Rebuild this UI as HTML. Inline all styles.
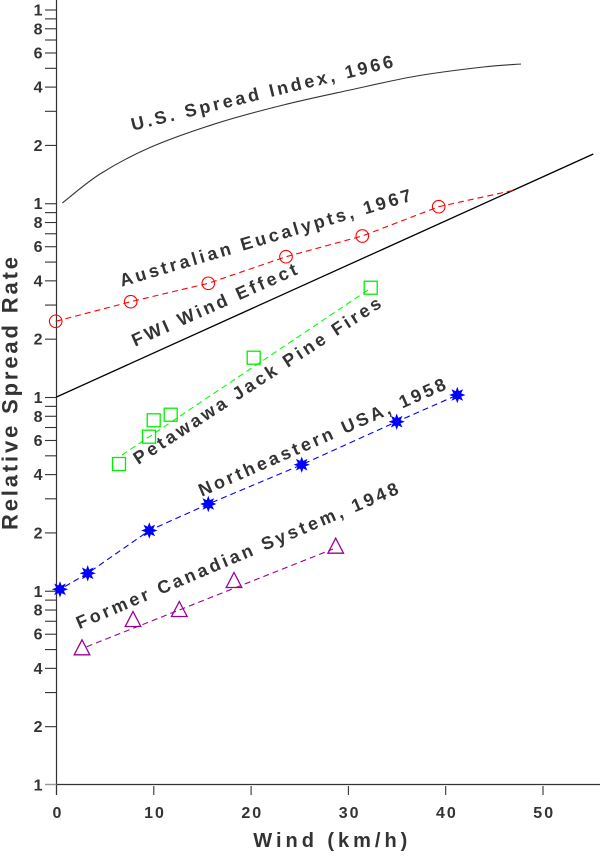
<!DOCTYPE html>
<html>
<head>
<meta charset="utf-8">
<style>
html,body{margin:0;padding:0;background:#fff;}
svg{display:block;}
text{font-family:"Liberation Sans",Arial,sans-serif;font-weight:bold;fill:#333;}
</style>
</head>
<body>
<svg width="600" height="856" viewBox="0 0 600 856" xmlns="http://www.w3.org/2000/svg">
<rect width="600" height="856" fill="#fff"/>

<!-- axes -->
<line x1="56.5" y1="0" x2="56.5" y2="795" stroke="#333" stroke-width="1.2"/>
<line x1="56.5" y1="784.5" x2="600" y2="784.5" stroke="#333" stroke-width="1.2"/>

<!-- y ticks -->
<g stroke="#333" stroke-width="1.1">
<line x1="45" y1="10" x2="56.5" y2="10"/>
<line x1="45" y1="18.87" x2="56.5" y2="18.87"/>
<line x1="45" y1="28.78" x2="56.5" y2="28.78"/>
<line x1="45" y1="40.01" x2="56.5" y2="40.01"/>
<line x1="45" y1="52.98" x2="56.5" y2="52.98"/>
<line x1="45" y1="68.32" x2="56.5" y2="68.32"/>
<line x1="45" y1="87.1" x2="56.5" y2="87.1"/>
<line x1="45" y1="111.31" x2="56.5" y2="111.31"/>
<line x1="45" y1="145.43" x2="56.5" y2="145.43"/>
<line x1="45" y1="203.75" x2="56.5" y2="203.75"/>
<line x1="45" y1="212.62" x2="56.5" y2="212.62"/>
<line x1="45" y1="222.53" x2="56.5" y2="222.53"/>
<line x1="45" y1="233.76" x2="56.5" y2="233.76"/>
<line x1="45" y1="246.73" x2="56.5" y2="246.73"/>
<line x1="45" y1="262.07" x2="56.5" y2="262.07"/>
<line x1="45" y1="280.85" x2="56.5" y2="280.85"/>
<line x1="45" y1="305.06" x2="56.5" y2="305.06"/>
<line x1="45" y1="339.18" x2="56.5" y2="339.18"/>
<line x1="45" y1="397.5" x2="56.5" y2="397.5"/>
<line x1="45" y1="406.37" x2="56.5" y2="406.37"/>
<line x1="45" y1="416.28" x2="56.5" y2="416.28"/>
<line x1="45" y1="427.51" x2="56.5" y2="427.51"/>
<line x1="45" y1="440.48" x2="56.5" y2="440.48"/>
<line x1="45" y1="455.82" x2="56.5" y2="455.82"/>
<line x1="45" y1="474.6" x2="56.5" y2="474.6"/>
<line x1="45" y1="498.81" x2="56.5" y2="498.81"/>
<line x1="45" y1="532.93" x2="56.5" y2="532.93"/>
<line x1="45" y1="591.25" x2="56.5" y2="591.25"/>
<line x1="45" y1="600.12" x2="56.5" y2="600.12"/>
<line x1="45" y1="610.03" x2="56.5" y2="610.03"/>
<line x1="45" y1="621.26" x2="56.5" y2="621.26"/>
<line x1="45" y1="634.23" x2="56.5" y2="634.23"/>
<line x1="45" y1="649.57" x2="56.5" y2="649.57"/>
<line x1="45" y1="668.35" x2="56.5" y2="668.35"/>
<line x1="45" y1="692.56" x2="56.5" y2="692.56"/>
<line x1="45" y1="726.68" x2="56.5" y2="726.68"/>
</g>
<line x1="45" y1="784.5" x2="56.5" y2="784.5" stroke="#999" stroke-width="1.4"/>

<!-- y tick labels -->
<g font-size="16" text-anchor="end">
<text x="42.5" y="15.5">1</text>
<text x="42.5" y="34.3">8</text>
<text x="42.5" y="58.5">6</text>
<text x="42.5" y="92.6">4</text>
<text x="42.5" y="150.9">2</text>
<text x="42.5" y="209.2">1</text>
<text x="42.5" y="228">8</text>
<text x="42.5" y="252.2">6</text>
<text x="42.5" y="286.3">4</text>
<text x="42.5" y="344.7">2</text>
<text x="42.5" y="403">1</text>
<text x="42.5" y="421.8">8</text>
<text x="42.5" y="446">6</text>
<text x="42.5" y="480.1">4</text>
<text x="42.5" y="538.4">2</text>
<text x="42.5" y="596.8">1</text>
<text x="42.5" y="615.5">8</text>
<text x="42.5" y="639.7">6</text>
<text x="42.5" y="673.9">4</text>
<text x="42.5" y="732.2">2</text>
<text x="42.5" y="790.5">1</text>
</g>

<!-- x ticks -->
<g stroke="#333" stroke-width="1.1">
<line x1="56.5" y1="785" x2="56.5" y2="795"/>
<line x1="153.8" y1="786" x2="153.8" y2="795"/>
<line x1="251.1" y1="786" x2="251.1" y2="795"/>
<line x1="348.4" y1="786" x2="348.4" y2="795"/>
<line x1="445.7" y1="786" x2="445.7" y2="795"/>
<line x1="543" y1="786" x2="543" y2="795"/>
</g>
<g font-size="16" text-anchor="middle" letter-spacing="2">
<text x="58" y="818">0</text>
<text x="155" y="818">10</text>
<text x="252.3" y="818">20</text>
<text x="349.6" y="818">30</text>
<text x="446.9" y="818">40</text>
<text x="544.2" y="818">50</text>
</g>

<!-- axis titles -->
<text x="253.3" y="847" font-size="20" textLength="154" lengthAdjust="spacing">Wind (km/h)</text>
<text transform="translate(17.5,530) rotate(-90)" x="0" y="0" font-size="22" textLength="273" lengthAdjust="spacing">Relative Spread Rate</text>

<!-- US Spread Index curve -->
<path d="M62.3,203 C68.6,198.2 85.4,183.3 100,174 C114.6,164.75 130.55,155.95 150,147.5 C169.45,139.05 194.5,130.4 216.7,123.3 C238.9,116.2 261.1,110.55 283.3,105 C305.5,99.45 327.8,94.83 350,90 C372.2,85.17 394.5,79.83 416.7,76 C438.9,72.17 465.9,69 483.3,67 C500.7,65 514.7,64.5 521,64" fill="none" stroke="#333" stroke-width="1.1"/>

<!-- FWI line -->
<line x1="56.5" y1="397" x2="593.3" y2="154" stroke="#000" stroke-width="1.3"/>

<!-- Australian (red) -->
<polyline points="55.7,321.3 130.7,301.7 208.3,283.3 286,256.7 362.3,236 438.7,206.7 515,190" fill="none" stroke="#ff0000" stroke-width="1.1" stroke-dasharray="6,4"/>
<g fill="none" stroke="#ff0000" stroke-width="1.1">
<circle cx="55.7" cy="321.3" r="6.3"/>
<circle cx="130.7" cy="301.7" r="6.3"/>
<circle cx="208.3" cy="283.3" r="6.3"/>
<circle cx="286" cy="256.7" r="6.3"/>
<circle cx="362.3" cy="236" r="6.3"/>
<circle cx="438.7" cy="206.7" r="6.3"/>
</g>

<!-- Petawawa (green) -->
<line x1="122" y1="455" x2="371" y2="288" stroke="#00ff00" stroke-width="1.1" stroke-dasharray="6,4"/>
<g fill="none" stroke="#00ee00" stroke-width="1.3">
<rect x="112.5" y="457.5" width="13" height="13"/>
<rect x="142.5" y="430.2" width="13" height="13"/>
<rect x="147.2" y="413.8" width="13" height="13"/>
<rect x="164.2" y="408.2" width="13" height="13"/>
<rect x="247.2" y="351.2" width="13" height="13"/>
<rect x="364.2" y="281.2" width="13" height="13"/>
</g>

<!-- Northeastern (blue) -->
<polyline points="56.5,592 60,589.3 87.7,573.3 149.3,530.5 208.3,504 301.7,464.7 396.7,421.7 457.3,395" fill="none" stroke="#0000ff" stroke-width="1.1" stroke-dasharray="6,4"/>
<defs>
<polygon id="star" points="0,-8.2 1.6,-3.86 5.8,-5.8 3.86,-1.6 8.2,0 3.86,1.6 5.8,5.8 1.6,3.86 0,8.2 -1.6,3.86 -5.8,5.8 -3.86,1.6 -8.2,0 -3.86,-1.6 -5.8,-5.8 -1.6,-3.86" fill="#0000ff"/>
</defs>
<use href="#star" x="60" y="589.3"/>
<use href="#star" x="87.7" y="573.3"/>
<use href="#star" x="149.3" y="530.5"/>
<use href="#star" x="208.3" y="504"/>
<use href="#star" x="301.7" y="464.7"/>
<use href="#star" x="396.7" y="421.7"/>
<use href="#star" x="457.3" y="395"/>

<!-- Former Canadian (purple) -->
<line x1="86.7" y1="646.7" x2="333" y2="549" stroke="#990099" stroke-width="1.1" stroke-dasharray="6,4"/>
<g fill="none" stroke="#990099" stroke-width="1.3">
<polygon points="82,639.8 89.8,654.8 74.2,654.8"/>
<polygon points="133,611.5 140.8,626.5 125.2,626.5"/>
<polygon points="179.3,601.5 187.1,616.5 171.5,616.5"/>
<polygon points="234,572.5 241.8,587.5 226.2,587.5"/>
<polygon points="335.7,538.2 343.5,553.2 327.9,553.2"/>
</g>

<!-- series labels -->
<g font-size="18" letter-spacing="3">
<text transform="translate(132.7,130.7) rotate(-13.7)">U.S. Spread Index, 1966</text>
<text transform="translate(121.7,286.7) rotate(-16.5)">Australian Eucalypts, 1967</text>
<text transform="translate(135,346.7) rotate(-24)">FWI Wind Effect</text>
<text transform="translate(138.3,465) rotate(-33)">Petawawa Jack Pine Fires</text>
<text transform="translate(201.7,496.7) rotate(-23.7)">Northeastern USA, 1958</text>
<text transform="translate(79.3,629.3) rotate(-23)">Former Canadian System, 1948</text>
</g>
</svg>
</body>
</html>
